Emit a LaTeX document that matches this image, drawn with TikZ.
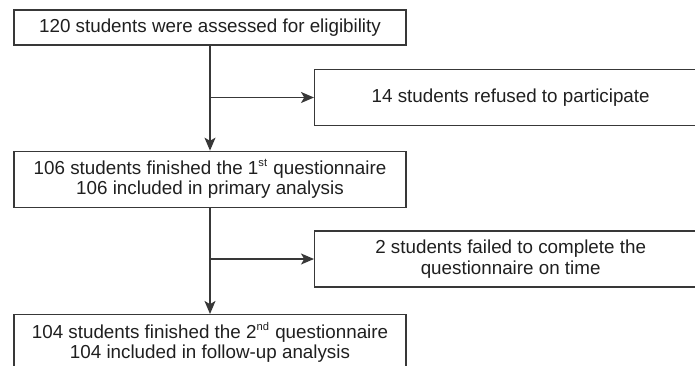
\documentclass[tikz,border=0pt]{standalone}
\usepackage{fontspec}
\setmainfont{Liberation Sans}
\usetikzlibrary{arrows.meta,positioning}

\begin{document}
\begin{tikzpicture}[
  x=0.5pt,y=-0.5pt,
  font=\fontsize{9.4}{10.2}\selectfont,
  >={Stealth[length=6.5pt,width=5.5pt,inset=1.6pt]},
  box/.style={draw=black!78,line width=0.65pt,align=center,inner sep=2pt,minimum height=28pt,text=black!88},
  mainbox/.style={box,minimum width=196pt},
  sidebox/.style={box,minimum width=196pt,anchor=west},
  flow/.style={->,draw=black!78,line width=0.65pt},
]
% ---- frame (reference is cropped at right and bottom) ----
\useasboundingbox (0,0) rectangle (695,365);
\clip (0,0) rectangle (695,365);
% ---- main column ----
\node[mainbox,minimum height=17.5pt] (assess) at (210,27.5) {120 students were assessed for eligibility};
\node[mainbox,below=52.5pt of assess] (first) {106 students finished the 1\textsuperscript{\fontsize{5.6}{6}\selectfont st} questionnaire\\106 included in primary analysis};
\node[mainbox,below=53pt of first] (second) {104 students finished the 2\textsuperscript{\fontsize{5.6}{6}\selectfont nd} questionnaire\\104 included in follow-up analysis};
% ---- exclusions on the right ----
\node[sidebox] (refused) at (314,97.5) {14 students refused to participate};
\node[sidebox] (failed) at (314,259) {2 students failed to complete the\\questionnaire on time};
% ---- edges ----
\draw[flow] (assess.south) -- (first.north);
\draw[flow] (assess.south |- refused.west) -- (refused.west);
\draw[flow] (first.south) -- (second.north);
\draw[flow] (first.south |- failed.west) -- (failed.west);
\end{tikzpicture}
\end{document}
